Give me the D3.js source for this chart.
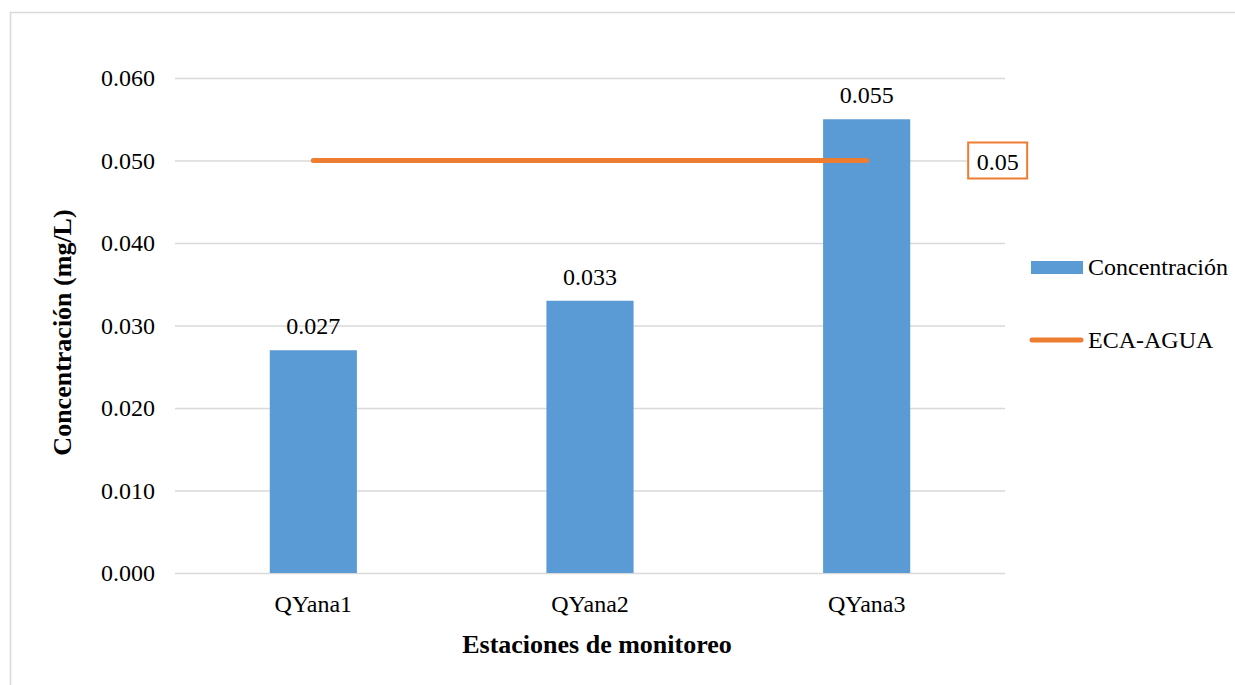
<!DOCTYPE html>
<html>
<head>
<meta charset="utf-8">
<script src="https://cdn.jsdelivr.net/npm/d3@7/dist/d3.min.js"></script>
<style>
  html, body { margin: 0; padding: 0; background: #ffffff; }
  svg { display: block; font-family: "Liberation Serif", "Times New Roman", serif; }
</style>
</head>
<body>
<svg id="chart" width="1235" height="685"></svg>
<script>
// Stations and measured concentrations (mg/L)
const stations = ["QYana1", "QYana2", "QYana3"];
const concentration = [0.027, 0.033, 0.055];
// Water quality standard (ECA-AGUA) for each station
const ecaAgua = [0.05, 0.05, 0.05];
const yTicks = [0, 0.01, 0.02, 0.03, 0.04, 0.05, 0.06];
const seriesNames = ["Concentración", "ECA-AGUA"];

const blue = "#5B9BD5";
const orange = "#ED7D31";
const grid = "#d9d9d9";
const serif = "'Liberation Serif', 'Times New Roman', serif";

const svg = d3.select("#chart");

// outer chart frame
svg.append("rect")
  .attr("x", 10.5).attr("y", 12.5)
  .attr("width", 1260).attr("height", 700)
  .attr("fill", "none").attr("stroke", grid).attr("stroke-width", 1.5);

const plot = { left: 175, right: 1005, top: 78, bottom: 573 };

const x = d3.scaleBand()
  .domain(stations)
  .range([plot.left, plot.right])
  .paddingInner(0.685)
  .paddingOuter(0.3425);

const y = d3.scaleLinear()
  .domain([0, 0.06])
  .range([plot.bottom, plot.top]);

// horizontal gridlines + y tick labels
const yAxis = d3.axisLeft(y)
  .tickValues(yTicks)
  .tickFormat(d3.format(".3f"))
  .tickSize(-(plot.right - plot.left))
  .tickPadding(20);

const gy = svg.append("g")
  .attr("transform", `translate(${plot.left},0)`)
  .call(yAxis)
  .attr("font-family", serif);
gy.select(".domain").remove();
gy.selectAll(".tick line").attr("stroke", grid).attr("stroke-width", 1.3);
gy.selectAll(".tick text")
  .attr("fill", "#000")
  .style("font-size", "24px")
  .style("font-family", serif);

// x axis category labels
const xAxis = d3.axisBottom(x).tickSize(0).tickPadding(22);
const gx = svg.append("g")
  .attr("transform", `translate(0,${plot.bottom})`)
  .call(xAxis)
  .attr("font-family", serif);
gx.select(".domain").remove();
gx.selectAll(".tick text")
  .attr("fill", "#000")
  .style("font-size", "24px")
  .style("font-family", serif);

// bars
svg.append("g").selectAll("rect")
  .data(stations)
  .join("rect")
  .attr("x", d => x(d))
  .attr("y", (d, i) => y(concentration[i]))
  .attr("width", x.bandwidth())
  .attr("height", (d, i) => y(0) - y(concentration[i]))
  .attr("fill", blue);

// bar value labels
svg.append("g").selectAll("text")
  .data(stations)
  .join("text")
  .attr("x", d => x(d) + x.bandwidth() / 2)
  .attr("y", (d, i) => y(concentration[i]) - 16)
  .attr("text-anchor", "middle")
  .style("font-size", "24px")
  .text((d, i) => d3.format(".3f")(concentration[i]));

// standard line
const line = d3.line()
  .x((d, i) => x(stations[i]) + x.bandwidth() / 2)
  .y(d => y(d));

svg.append("path")
  .datum(ecaAgua)
  .attr("d", line)
  .attr("fill", "none")
  .attr("stroke", orange)
  .attr("stroke-width", 5)
  .attr("stroke-linecap", "round");

// boxed label for the standard value
const lastIdx = ecaAgua.length - 1;
const boxCx = x(stations[lastIdx]) + x.bandwidth() / 2 + 131;
const boxCy = y(ecaAgua[lastIdx]);
const boxG = svg.append("g");
boxG.append("rect")
  .attr("x", boxCx - 29.5).attr("y", boxCy - 18)
  .attr("width", 59).attr("height", 36)
  .attr("fill", "#fff")
  .attr("stroke", orange).attr("stroke-width", 2);
boxG.append("text")
  .attr("x", boxCx).attr("y", boxCy + 9)
  .attr("text-anchor", "middle")
  .style("font-size", "24px")
  .text(String(ecaAgua[lastIdx]));

// legend
const legend = svg.append("g");
legend.append("rect")
  .attr("x", 1031).attr("y", 261)
  .attr("width", 52).attr("height", 13)
  .attr("fill", blue);
legend.append("text")
  .attr("x", 1088).attr("y", 275)
  .style("font-size", "24px")
  .text(seriesNames[0]);
legend.append("line")
  .attr("x1", 1032).attr("x2", 1081)
  .attr("y1", 340).attr("y2", 340)
  .attr("stroke", orange).attr("stroke-width", 5)
  .attr("stroke-linecap", "round");
legend.append("text")
  .attr("x", 1088).attr("y", 348)
  .style("font-size", "24px")
  .text(seriesNames[1]);

// axis titles
svg.append("text")
  .attr("x", (plot.left + plot.right) / 2 + 7)
  .attr("y", 653)
  .attr("text-anchor", "middle")
  .style("font-size", "26px")
  .style("font-weight", "bold")
  .text("Estaciones de monitoreo");

svg.append("text")
  .attr("transform", `translate(71,${(plot.top + plot.bottom) / 2 + 7}) rotate(-90)`)
  .attr("text-anchor", "middle")
  .style("font-size", "26px")
  .style("font-weight", "bold")
  .text("Concentración (mg/L)");
</script>
</body>
</html>
